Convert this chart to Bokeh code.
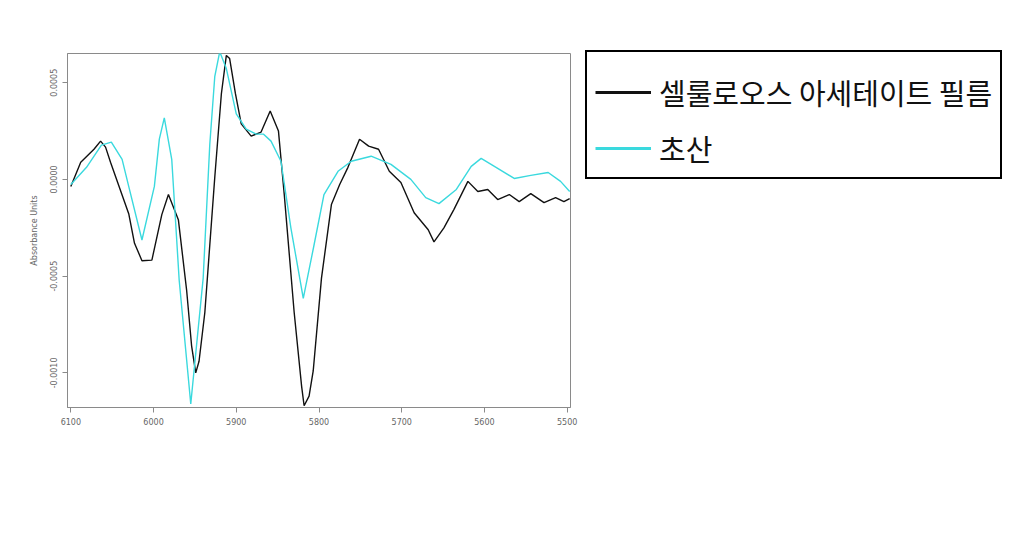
from bokeh.plotting import figure
from bokeh.models import (Range1d, FixedTicker, PrintfTickFormatter, Legend,
                          LegendItem)
from bokeh.embed import file_html
from bokeh.resources import INLINE

# Wavenumber (cm-1) and absorbance readings for each spectrum
film_wn = [6100, 6088, 6072, 6064, 6058, 6052, 6030, 6023, 6014, 6002, 5990,
           5982, 5970, 5960, 5954, 5949, 5945, 5938, 5926, 5918, 5912, 5908,
           5901, 5894, 5882, 5870, 5859, 5849, 5842, 5830, 5821, 5818, 5812,
           5807, 5797, 5785, 5775, 5765, 5751, 5740, 5728, 5715, 5701, 5685,
           5668, 5661, 5649, 5637, 5620, 5608, 5596, 5584, 5570, 5558, 5544,
           5528, 5514, 5504, 5497]
film_abs = [-0.000036, 0.000089, 0.000156, 0.000198, 0.000167, 0.000089,
            -0.000177, -0.000330, -0.000420, -0.000417, -0.000182, -0.000078,
            -0.000208, -0.000573, -0.00086, -0.001000, -0.00094, -0.000688,
            0.00001, 0.000443, 0.000641, 0.000625, 0.000443, 0.000287,
            0.000224, 0.000245, 0.000354, 0.00025, -0.000078, -0.000688,
            -0.00107, -0.00117, -0.00112, -0.00099, -0.00051, -0.00013,
            -0.000026, 0.0000625, 0.000208, 0.000172, 0.000156, 0.000042,
            -0.000016, -0.000172, -0.00026, -0.000323, -0.00025, -0.000156,
            -0.00001, -0.0000625, -0.000052, -0.000104, -0.000078, -0.000115,
            -0.000073, -0.00012, -0.000094, -0.000115, -0.000099]

acid_wn = [6100, 6081, 6063, 6051, 6038, 6030, 6014, 5999, 5993, 5987, 5978,
           5969, 5955, 5940, 5932, 5926, 5920, 5912, 5900, 5888, 5876, 5867,
           5858, 5846, 5834, 5819, 5806, 5794, 5777, 5761, 5737, 5713, 5689,
           5671, 5655, 5634, 5616, 5604, 5586, 5564, 5544, 5523, 5508, 5497]
acid_abs = [-0.000026, 0.0000625, 0.000177, 0.000193, 0.000104, -0.000036,
            -0.000313, -0.000036, 0.000208, 0.000318, 0.000104, -0.000521,
            -0.001161, -0.00051, 0.000182, 0.000531, 0.00066, 0.000573,
            0.000339, 0.00026, 0.000234, 0.000234, 0.000198, 0.000094,
            -0.00025, -0.000615, -0.000339, -0.000078, 0.000042, 0.000094,
            0.00012, 0.000078, 0.0, -0.000094, -0.000125, -0.000052,
            0.0000677, 0.000109, 0.0000625, 0.000005, 0.000021, 0.000036,
            -0.00001, -0.0000625]

x_ticks = [6100, 6000, 5900, 5800, 5700, 5600, 5500]
y_ticks = [-0.0010, -0.0005, 0.0, 0.0005]
series_names = ["셀룰로오스 아세테이트 필름", "초산"]
y_title = "Absorbance Units"

FILM_COLOR = "#111111"
ACID_COLOR = "#3ad9de"
AXIS_GRAY = "#8a8a8a"
TICK_TEXT = "#666666"
NAN = float("nan")

p = figure(frame_width=503, frame_height=354, output_backend="svg",
           toolbar_location=None,
           x_range=Range1d(6104, 5496), y_range=Range1d(-0.001179, 0.000651),
           min_border_left=67, min_border_right=0, min_border_top=53,
           min_border_bottom=130)
p.background_fill_color = "white"
p.border_fill_color = "white"
p.outline_line_color = AXIS_GRAY
p.outline_line_width = 1
p.xgrid.visible = False
p.ygrid.visible = False

film = p.line(film_wn, film_abs, line_color=FILM_COLOR, line_width=1.4)
acid = p.line(acid_wn, acid_abs, line_color=ACID_COLOR, line_width=1.4)

# Heavier swatches for the key; their single point is blank so nothing plots
key_film = p.line(x=[NAN], y=[NAN], line_color=FILM_COLOR, line_width=3)
key_acid = p.line(x=[NAN], y=[NAN], line_color=ACID_COLOR, line_width=3)

for ax in (p.xaxis[0], p.yaxis[0]):
    ax.axis_line_color = AXIS_GRAY
    ax.major_tick_line_color = AXIS_GRAY
    ax.major_tick_out = 5
    ax.major_tick_in = 0
    ax.minor_tick_line_color = None
    ax.major_label_text_font = "DejaVu Sans"
    ax.major_label_text_font_size = "8px"
    ax.major_label_text_color = TICK_TEXT

p.xaxis.ticker = FixedTicker(ticks=x_ticks)
p.xaxis.major_label_standoff = 5
p.yaxis.ticker = FixedTicker(ticks=y_ticks)
p.yaxis.formatter = PrintfTickFormatter(format="%.4f")
p.yaxis.major_label_orientation = "vertical"
p.yaxis.major_label_standoff = 5
p.yaxis.axis_label = y_title
p.yaxis.axis_label_text_font = "DejaVu Sans"
p.yaxis.axis_label_text_font_size = "8px"
p.yaxis.axis_label_text_font_style = "normal"
p.yaxis.axis_label_text_color = TICK_TEXT
p.yaxis.axis_label_standoff = 9

legend = Legend(items=[LegendItem(label=series_names[0], renderers=[key_film]),
                       LegendItem(label=series_names[1], renderers=[key_acid])],
                location=(15, 228), orientation="vertical",
                title=" ", title_text_font_size="8px", title_standoff=2,
                border_line_color="black", border_line_width=2,
                border_line_alpha=1,
                background_fill_color="white", background_fill_alpha=1,
                padding=8, spacing=14, margin=0,
                glyph_width=56, glyph_height=38, label_height=38,
                label_standoff=8,
                label_text_font="Noto Sans CJK KR", label_text_font_size="29px",
                label_text_color="#111111")
p.add_layout(legend, "right")

open("out.html", "w").write(file_html(p, INLINE))
